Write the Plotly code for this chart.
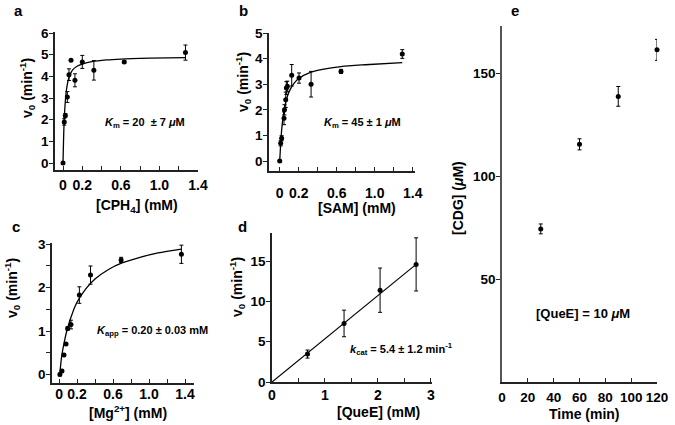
import plotly.graph_objects as go

# ---------------- data ----------------
# panel a : [CPH4] (mM) vs v0
a_x = [0, 0.013, 0.024, 0.045, 0.062, 0.083, 0.124, 0.2, 0.32, 0.635, 1.27]
a_y = [0, 1.9, 2.2, 3.05, 4.08, 4.75, 3.82, 4.67, 4.28, 4.67, 5.1]
a_err = [0.03, 0.15, 0.08, 0.25, 0.27, 0.03, 0.3, 0.3, 0.45, 0.05, 0.35]
a_fit_x = [0, 0.01, 0.02, 0.035, 0.05, 0.07, 0.1, 0.15, 0.2, 0.3, 0.45, 0.6, 0.9, 1.27]
a_fit_y = [0, 1.7, 2.6, 3.35, 3.75, 4.05, 4.3, 4.48, 4.57, 4.68, 4.76, 4.8, 4.84, 4.87]

# panel b : [SAM] (mM) vs v0
b_x = [0, 0.01, 0.02, 0.045, 0.05, 0.063, 0.07, 0.08, 0.126, 0.203, 0.33, 0.645, 1.29]
b_y = [0, 0.69, 0.89, 1.67, 2.0, 2.39, 2.85, 2.92, 3.35, 3.24, 3.0, 3.5, 4.18]
b_err = [0.03, 0.1, 0.1, 0.25, 0.2, 0.3, 0.25, 0.2, 0.42, 0.2, 0.5, 0.08, 0.17]
b_fit_x = [0, 0.02, 0.045, 0.07, 0.1, 0.15, 0.2, 0.33, 0.45, 0.645, 0.9, 1.29]
b_fit_y = [0, 1.2, 1.97, 2.4, 2.72, 3.03, 3.22, 3.47, 3.58, 3.69, 3.76, 3.84]

# panel c : [Mg2+] (mM) vs v0
c_x = [0.01, 0.033, 0.055, 0.078, 0.096, 0.133, 0.226, 0.35, 0.69, 1.36]
c_y = [0.0, 0.08, 0.45, 0.70, 1.06, 1.15, 1.83, 2.29, 2.64, 2.77]
c_err = [0.03, 0.03, 0.03, 0.03, 0.04, 0.1, 0.19, 0.21, 0.06, 0.21]
c_fit_x = [0.01, 0.03, 0.05, 0.08, 0.1, 0.13, 0.18, 0.23, 0.3, 0.4, 0.55, 0.7, 0.9, 1.1, 1.36]
c_fit_y = [0.05, 0.43, 0.66, 0.95, 1.1, 1.3, 1.58, 1.77, 1.98, 2.2, 2.42, 2.57, 2.7, 2.8, 2.89]

# panel d : [QueE] (mM) vs v0
d_x = [0.67, 1.36, 2.04, 2.72]
d_y = [3.47, 7.27, 11.4, 14.6]
d_err = [0.5, 1.65, 2.75, 3.3]
d_fit_x = [0, 2.72]
d_fit_y = [0, 14.6]

# panel e : time (min) vs [CDG]
e_x = [30, 60, 90, 120]
e_y = [74.4, 115.5, 138.8, 161.4]
e_err = [2.4, 2.7, 4.8, 5.1]

conc_ticks = [0, 0.2, 0.4, 0.6, 0.8, 1.0, 1.2, 1.4]
conc_text = ["0", "0.2", "", "0.6", "", "1.0", "", "1.4"]

# ---------------- figure ----------------
W, H = 675, 425
FONT = "Liberation Sans, Arial, sans-serif"
fig = go.Figure()


def px(x):
    return x / W


def py(y):
    return 1 - y / H


def add_panel(n, xs, ys, errs, fx=None, fy=None):
    xa = "x" if n == 1 else f"x{n}"
    ya = "y" if n == 1 else f"y{n}"
    if fx is not None:
        fig.add_trace(go.Scatter(x=fx, y=fy, mode="lines", xaxis=xa, yaxis=ya,
                                 line=dict(color="black", width=1.3, shape="spline", smoothing=0.8),
                                 showlegend=False, hoverinfo="skip", cliponaxis=False))
    fig.add_trace(go.Scatter(x=xs, y=ys, mode="markers", xaxis=xa, yaxis=ya,
                             marker=dict(color="black", size=5),
                             error_y=dict(type="data", array=errs, color="black", thickness=1, width=2),
                             showlegend=False, cliponaxis=False))


add_panel(1, a_x, a_y, a_err, a_fit_x, a_fit_y)
add_panel(2, b_x, b_y, b_err, b_fit_x, b_fit_y)
add_panel(3, c_x, c_y, c_err, c_fit_x, c_fit_y)
fig.add_trace(go.Scatter(x=d_fit_x, y=d_fit_y, mode="lines", xaxis="x4", yaxis="y4",
                         line=dict(color="black", width=1.2), showlegend=False, hoverinfo="skip"))
add_panel(4, d_x, d_y, d_err)
add_panel(5, e_x, e_y, e_err)

xtickfont = dict(family=FONT, size=14, color="black", weight="bold")
ytickfont = dict(family=FONT, size=13.5, color="black", weight="bold")
axcommon = dict(showgrid=False, zeroline=False, showline=True, linecolor="#222", linewidth=1.5,
                tickcolor="#222", tickwidth=1, ticklen=4, fixedrange=True, tickangle=0,
                automargin=False)


def xax(dom, rng, anchor, tickvals, ticktext, standoff, fsize=14):
    d = dict(axcommon)
    f = dict(xtickfont)
    f["size"] = fsize
    d.update(domain=dom, range=rng, anchor=anchor, tickmode="array", tickvals=tickvals,
             ticktext=ticktext, ticks="inside", ticklabelstandoff=standoff, tickfont=f)
    return d


def yax(dom, rng, anchor, tickvals, ticktext):
    d = dict(axcommon)
    d.update(domain=dom, range=rng, anchor=anchor, tickmode="array", tickvals=tickvals,
             ticktext=ticktext, ticks="outside", ticklabelstandoff=-2, tickfont=ytickfont)
    return d


fig.update_layout(
    width=W, height=H, margin=dict(l=0, r=0, t=0, b=0),
    paper_bgcolor="white", plot_bgcolor="white",
    font=dict(family=FONT, color="black"),
    xaxis=xax([px(55), px(198)], [-0.083, 1.4], "y", conc_ticks, conc_text, 1),
    yaxis=yax([py(170), py(32)], [-0.32, 6.05], "x", [0, 1, 2, 3, 4, 5, 6],
              ["0", "1", "2", "3", "4", "5", "6"]),
    xaxis2=xax([px(269), px(415)], [-0.113, 1.424], "y2", conc_ticks, conc_text, 8),
    yaxis2=yax([py(171), py(33)], [-0.39, 5.0], "x2", [0, 1, 2, 3, 4, 5],
               ["0", "1", "2", "3", "4", "5"]),
    xaxis3=xax([px(52), px(194)], [-0.078, 1.5], "y3", conc_ticks, conc_text, -2),
    yaxis3=yax([py(382.7), py(243)], [-0.19, 3.03], "x3", [0, 0.5, 1, 1.5, 2, 2.5, 3],
               ["0", "", "1", "", "2", "", "3"]),
    xaxis4=xax([px(272), px(432)], [0, 3.02], "y4", [0, 0.5, 1, 1.5, 2, 2.5, 3],
               ["0", "", "1", "", "2", "", "3"], -1),
    yaxis4=yax([py(382), py(233)], [0, 18.5], "x4", [0, 5, 10, 15], ["0", "5", "10", "15"]),
    xaxis5=xax([px(502), px(657)], [0, 120], "y5", [0, 20, 40, 60, 80, 100, 120],
               ["0", "20", "40", "60", "80", "100", "120"], 2, 13.5),
    yaxis5=yax([py(382), py(26)], [0, 173], "x5", [50, 100, 150], ["50", "100", "150"]),
)
fig.layout.yaxis5.linecolor = "#555"


def ann(text, x, y, size=14, angle=0, xanchor="center"):
    fig.add_annotation(text=text, x=px(x), y=py(y), xref="paper", yref="paper",
                       showarrow=False, textangle=angle, xanchor=xanchor, yanchor="middle",
                       font=dict(family=FONT, size=size, color="black", weight="bold"))


# panel letters
ann("a", 18, 11, 15)
ann("b", 243, 11, 15)
ann("c", 16, 227, 15)
ann("d", 242, 227, 15)
ann("e", 515, 11, 15)

# axis titles
vlab = "v<sub>0</sub> (min<sup>-1</sup>)"
ann(vlab, 27, 88, 14, -90)
ann(vlab, 243, 82, 14, -90)
ann(vlab, 12, 288, 14, -90)
ann(vlab, 237, 287, 14, -90)
ann("[CDG] (<i>μ</i>M)", 458, 198, 14, -90)
ann("[CPH<sub>4</sub>] (mM)", 137, 206, 14)
ann("[SAM] (mM)", 357, 208, 14)
ann("[Mg<sup>2+</sup>] (mM)", 128, 412, 14)
ann("[QueE] (mM)", 378, 412, 14)
ann("Time (min)", 584, 414, 14)

# in-panel texts
ann("<i>K</i><sub>m</sub> = 20  ± 7 <i>μ</i>M", 145, 123, 11)
ann("<i>K</i><sub>m</sub> = 45 ± 1 <i>μ</i>M", 362, 123, 11)
ann("<i>K</i><sub>app</sub> = 0.20 ± 0.03 mM", 95, 331, 11, xanchor="left")
ann("<i>k</i><sub>cat</sub> = 5.4 ± 1.2 min<sup>-1</sup>", 348, 349, 11, xanchor="left")
ann("[QueE] = 10 <i>μ</i>M", 583, 313, 13)

# remove the browser's default 8px page margin so the figure fills the window exactly
fig.write_html("out.html", config={"displayModeBar": False},
               post_script="document.body.style.margin='0';document.body.style.overflow='hidden';")
